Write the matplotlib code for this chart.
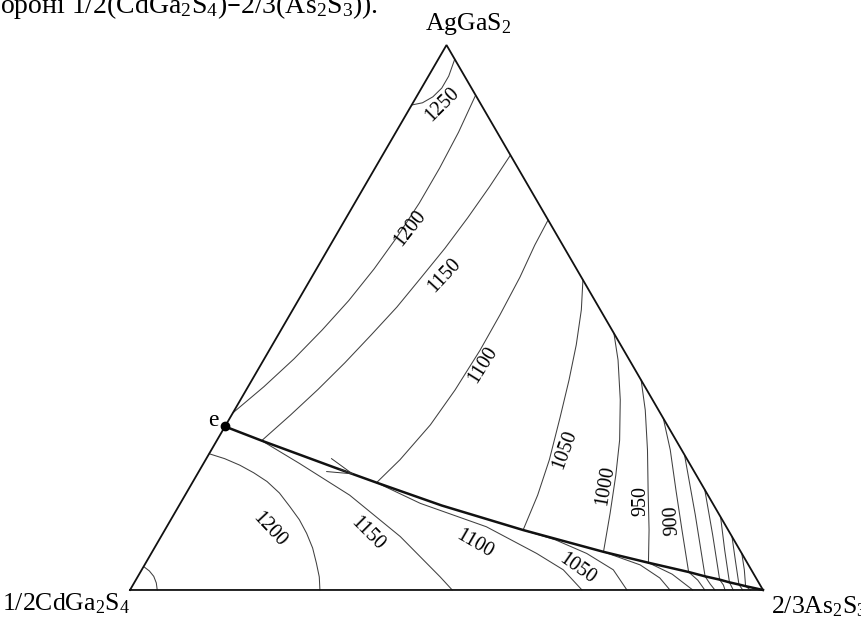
import numpy as np
import matplotlib.pyplot as plt

plt.rcParams['font.family'] = ['Liberation Serif', 'DejaVu Serif']
plt.rcParams['mathtext.default'] = 'regular'

# compositions in mol %: (2/3As2S3, AgGaS2), the rest is 1/2CdGa2S4
eutectic = (0, 30)

# monovariant line from e to the 2/3As2S3 corner
mono_line = [(0, 30), (7.1, 27.4), (21, 22.5), (29.1, 19.7), (41.5, 15.5),
             (56.6, 11), (71.3, 7), (79.4, 5), (86.6, 3.3), (89.6, 2.5),
             (92.2, 1.9), (94, 1.4), (95.7, 1.0), (96.9, 0.7), (100, 0)]

# isotherms in the AgGaS2 field
upper_1250 = [(0, 89), (1.5, 89.4), (2.6, 90.5), (3.2, 92.1), (3.2, 94.3), (2.6, 97.4)]
upper_1200 = [(9.2, 90.8), (9.9, 84), (10.2, 77.4), (10.2, 71), (9.8, 64.8), (9.1, 58.9),
              (8, 53.1), (6.5, 47.7), (4.7, 42.4), (2.5, 37.3), (0, 32.5)]
upper_1150 = [(20.2, 79.8), (19.8, 74), (19.2, 68.3), (18.4, 62.7), (17.3, 57.2),
              (16.2, 51.9), (14.7, 46.8), (13.1, 41.7), (11.3, 36.8), (9.3, 32.1), (7.1, 27.4)]
upper_1100 = [(32.1, 67.9), (32.3, 63.3), (32.9, 57.4), (33.2, 50.5), (33.3, 44),
              (33, 36.7), (32.3, 30.3), (30.7, 23.9), (29.1, 19.7)]
upper_1050 = [(43.1, 56.9), (45.6, 51.4), (48, 45), (50.1, 38.5), (52.1, 31.7),
              (54.3, 23.9), (55.7, 17.4), (56.6, 11)]
upper_1000 = [(52.9, 47.1), (56, 42.2), (60, 34.9), (63.6, 27.5), (66.2, 21.1),
              (68.8, 14.1), (71.3, 7)]
upper_950 = [(61.5, 38.5), (64.9, 33), (68.9, 25.7), (72.7, 18.3), (76.5, 11), (79.4, 5)]
upper_900 = [(68.5, 31.5), (72.5, 25.7), (77.1, 18.3), (81.7, 11), (86.6, 3.3)]
upper_850 = [(75.2, 24.8), (82.4, 13.8), (89.6, 2.5)]
upper_800 = [(81.6, 18.4), (87, 10.1), (92.2, 1.9)]
upper_750 = [(86.6, 13.4), (90.3, 7.3), (94, 1.4)]
upper_700 = [(90.2, 9.8), (93, 5.3), (95.7, 1.0)]
upper_650 = [(93.3, 6.7), (95.2, 3.7), (96.9, 0.7)]

# isotherms in the CdGa2S4 field
lower_1250 = [(0, 4.3), (1.3, 3.5), (2.5, 2.5), (3.5, 1.3), (4.3, 0)]
lower_1200 = [(0, 25), (2.9, 24.1), (5.9, 22.9), (8.8, 21.5), (11.7, 19.9), (14.7, 17.8),
              (17.6, 15.3), (20.3, 12.9), (22.7, 10.4), (25, 7.7), (27, 4.9), (28.7, 2.4), (30, 0)]
lower_1150 = [(7.1, 27.4), (15.2, 23.2), (26, 17.4), (37.8, 9.8), (47.8, 2.4), (50.9, 0)]
lower_1100 = [(29.1, 19.7), (37.9, 15.9), (50.5, 11.6), (60.9, 6.7), (66.6, 3.7), (71.4, 0)]
lower_1050 = [(56.6, 11), (62.6, 9.2), (68.8, 6.7), (74.5, 3.7), (78.5, 0)]
lower_1000 = [(71.3, 7), (78.3, 4.6), (82.6, 2.2), (85.3, 0)]
lower_950 = [(79.4, 5), (84.2, 2.9), (88.9, 0)]
lower_900 = [(86.6, 3.3), (88.8, 1.8), (90.8, 0)]
lower_850 = [(89.6, 2.5), (91.1, 1.1), (92.4, 0)]
lower_800 = [(92.2, 1.9), (93.3, 0.9), (94, 0)]
lower_750 = [(94, 1.4), (95.3, 0)]
lower_700 = [(95.7, 1.0), (96.8, 0)]
lower_650 = [(96.9, 0.7), (98, 0)]

# isotherm labels
label_text = ['1250', '1200', '1150', '1100', '1050', '1000', '950', '900',
              '1200', '1150', '1100', '1050']
label_b = [4.9, 11, 20.7, 35.1, 55.9, 65.5, 72.6, 79.2, 16.5, 32.4, 50.3, 68.7]
label_c = [89, 66.4, 57.8, 41.3, 25.7, 19.1, 16.3, 12.8, 11, 10.3, 8.4, 3.9]
label_rot = [45, 52, 47, 58, 70, 80, 90, 93, -47, -45, -30, -35]


def tern(b, c):
    b = np.asarray(b, dtype=float)
    c = np.asarray(c, dtype=float)
    return b + c / 2, c * np.sqrt(3) / 2


def draw_curve(ax, pts, **kw):
    b, c = zip(*pts)
    x, y = tern(b, c)
    ax.plot(x, y, **kw)


fig = plt.figure(figsize=(8.62, 6.21), dpi=100)
ax = fig.add_axes([0, 0, 1, 1])
ax.set_xlim(-20.54, 115.64)
ax.set_ylim(-4.93, 93.76)
ax.axis('off')

iso_style = dict(color='#404040', lw=0.75, solid_capstyle='round', solid_joinstyle='round')
for pts in [upper_1250, upper_1200, upper_1150, upper_1100, upper_1050, upper_1000,
            upper_950, upper_900, upper_850, upper_800, upper_750, upper_700, upper_650,
            lower_1250, lower_1200, lower_1150, lower_1100, lower_1050, lower_1000,
            lower_950, lower_900, lower_850, lower_800, lower_750, lower_700, lower_650]:
    draw_curve(ax, pts, **iso_style)

# triangle
tri_b = [0, 100, 0, 0]
tri_c = [0, 0, 100, 0]
tx, ty = tern(tri_b, tri_c)
ax.plot(tx, ty, color='#111111', lw=1.3, solid_joinstyle='miter')

draw_curve(ax, mono_line, color='#111111', lw=1.8, solid_joinstyle='round')

# direction of falling temperature along e -> As2S3
ax.annotate('', xy=tern(24.8, 21.2), xytext=tern(22, 22.2),
            arrowprops=dict(arrowstyle='->,head_length=0.9,head_width=0.25',
                            color='#333333', lw=0.7, mutation_scale=20,
                            shrinkA=0, shrinkB=0))

ex, ey = tern(*eutectic)
ax.plot(ex, ey, 'o', color='black', ms=6)
ax.annotate('e', xy=(ex, ey), xytext=(-8.6, 4), textcoords='offset points',
            ha='center', va='center', fontsize=17)

for txt, b, c, r in zip(label_text, label_b, label_c, label_rot):
    x, y = tern(b, c)
    ax.text(x, y, txt, rotation=r, ha='center', va='center', fontsize=14.5)

ax.annotate('AgGaS$_2$', xy=tern(0, 100), xytext=(15.5, 10.8), textcoords='offset points',
            ha='center', va='baseline', fontsize=18.5)
ax.annotate('1/2CdGa$_2$S$_4$', xy=tern(0, 0), xytext=(-92, -15), textcoords='offset points',
            ha='left', va='baseline', fontsize=18.5)
ax.annotate('2/3As$_2$S$_3$', xy=tern(100, 0), xytext=(5.5, -17), textcoords='offset points',
            ha='left', va='baseline', fontsize=18.5, annotation_clip=False)

fig.text(0.0, 1 - 13 / 621, 'ороні 1/2(CdGa$_2$S$_4$)–2/3(As$_2$S$_3$)).',
         ha='left', va='baseline', fontsize=20)

fig.savefig('out.png', dpi=100)
